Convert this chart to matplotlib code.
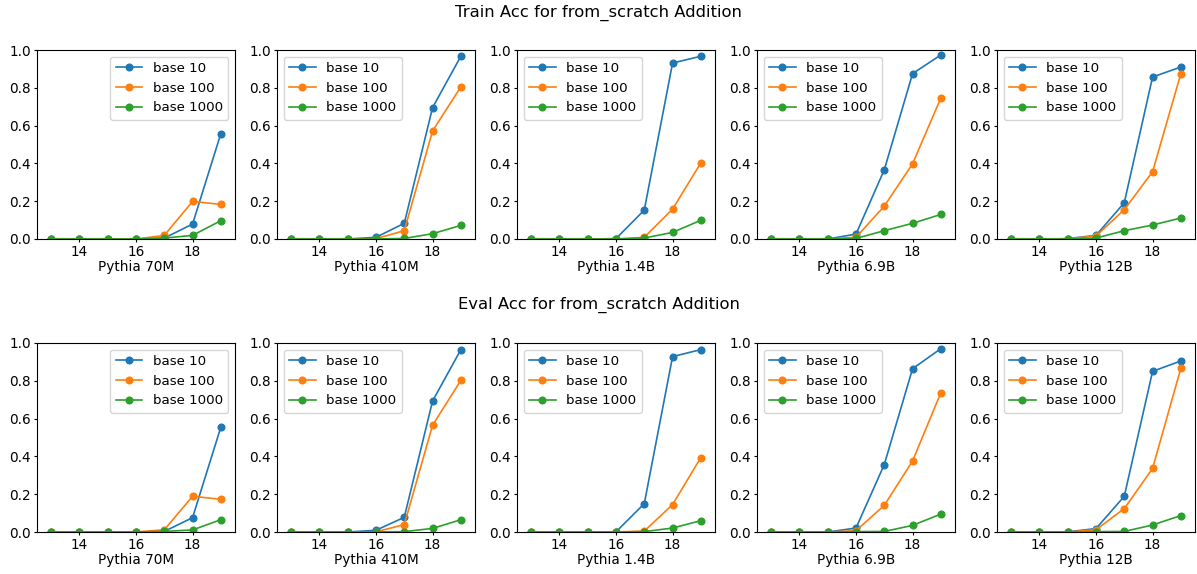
import matplotlib
matplotlib.use("Agg")
import matplotlib.pyplot as plt
import numpy as np

x = [13, 14, 15, 16, 17, 18, 19]
models = ["Pythia 70M", "Pythia 410M", "Pythia 1.4B", "Pythia 6.9B", "Pythia 12B"]
series_labels = ["base 10", "base 100", "base 1000"]

# Train accuracy
train_70m = [
    [0, 0, 0, 0, 0.005, 0.079, 0.558],
    [0, 0, 0, 0, 0.019, 0.199, 0.183],
    [0, 0, 0, 0, 0.005, 0.019, 0.097],
]
train_410m = [
    [0, 0, 0, 0.009, 0.083, 0.695, 0.967],
    [0, 0, 0, 0.002, 0.044, 0.572, 0.805],
    [0, 0, 0, 0.0, 0.003, 0.028, 0.072],
]
train_1_4b = [
    [0, 0, 0, 0.002, 0.153, 0.931, 0.967],
    [0, 0, 0, 0.0, 0.009, 0.158, 0.403],
    [0, 0, 0, 0.0, 0.005, 0.035, 0.099],
]
train_6_9b = [
    [0, 0, 0, 0.026, 0.366, 0.875, 0.974],
    [0, 0, 0, 0.009, 0.174, 0.398, 0.746],
    [0, 0, 0, 0.003, 0.044, 0.083, 0.130],
]
train_12b = [
    [0, 0, 0.002, 0.019, 0.192, 0.857, 0.910],
    [0, 0, 0.001, 0.016, 0.155, 0.356, 0.875],
    [0, 0, 0.0, 0.005, 0.044, 0.074, 0.111],
]

# Eval accuracy
eval_70m = [
    [0, 0, 0, 0, 0.003, 0.076, 0.555],
    [0, 0, 0, 0, 0.012, 0.189, 0.173],
    [0, 0, 0, 0, 0.003, 0.011, 0.065],
]
eval_410m = [
    [0, 0, 0, 0.009, 0.078, 0.693, 0.965],
    [0, 0, 0, 0.001, 0.039, 0.565, 0.802],
    [0, 0, 0, 0.0, 0.002, 0.019, 0.065],
]
eval_1_4b = [
    [0, 0, 0, 0.001, 0.150, 0.928, 0.965],
    [0, 0, 0, 0.0, 0.005, 0.145, 0.394],
    [0, 0, 0, 0.0, 0.002, 0.021, 0.060],
]
eval_6_9b = [
    [0, 0, 0, 0.021, 0.357, 0.864, 0.970],
    [0, 0, 0, 0.007, 0.141, 0.376, 0.737],
    [0, 0, 0, 0.002, 0.003, 0.035, 0.095],
]
eval_12b = [
    [0, 0, 0.001, 0.018, 0.189, 0.850, 0.905],
    [0, 0, 0.0, 0.012, 0.124, 0.336, 0.867],
    [0, 0, 0.0, 0.002, 0.003, 0.037, 0.087],
]

train_data = [train_70m, train_410m, train_1_4b, train_6_9b, train_12b]
eval_data = [eval_70m, eval_410m, eval_1_4b, eval_6_9b, eval_12b]
titles = ["Train Acc for from_scratch Addition", "Eval Acc for from_scratch Addition"]
colors = ["#1f77b4", "#ff7f0e", "#2ca02c"]

W, H = 1197, 574
plt.rcParams['font.size'] = 9.8
fig = plt.figure(figsize=(W / 100, H / 100), dpi=100)

lefts = [37, 277, 517, 757, 997]
aw = 198
row_tops = [50, 343]
ah = 189
title_y = [13, 305]

for r, data in enumerate([train_data, eval_data]):
    fig.text(0.5, 1 - title_y[r] / H, titles[r], ha="center", va="center", fontsize=11.8)
    for c in range(5):
        ax = fig.add_axes([lefts[c] / W, 1 - (row_tops[r] + ah) / H, aw / W, ah / H])
        for s in range(3):
            ax.plot(x, data[c][s], marker="o", markersize=4.8, linewidth=1.2,
                    color=colors[s], label=series_labels[s])
        ax.set_ylim(0, 1)
        ax.set_xlim(12.5, 19.5)
        ax.set_xticks([14, 16, 18])
        ax.set_yticks([0, 0.2, 0.4, 0.6, 0.8, 1.0])
        ax.tick_params(length=2.5, pad=1.8)
        ax.set_xlabel(models[c], labelpad=0.5)
        loc = "upper right" if c == 0 else "upper left"
        ax.legend(loc=loc, fontsize=9.6)

fig.savefig("out.png", dpi=100)
